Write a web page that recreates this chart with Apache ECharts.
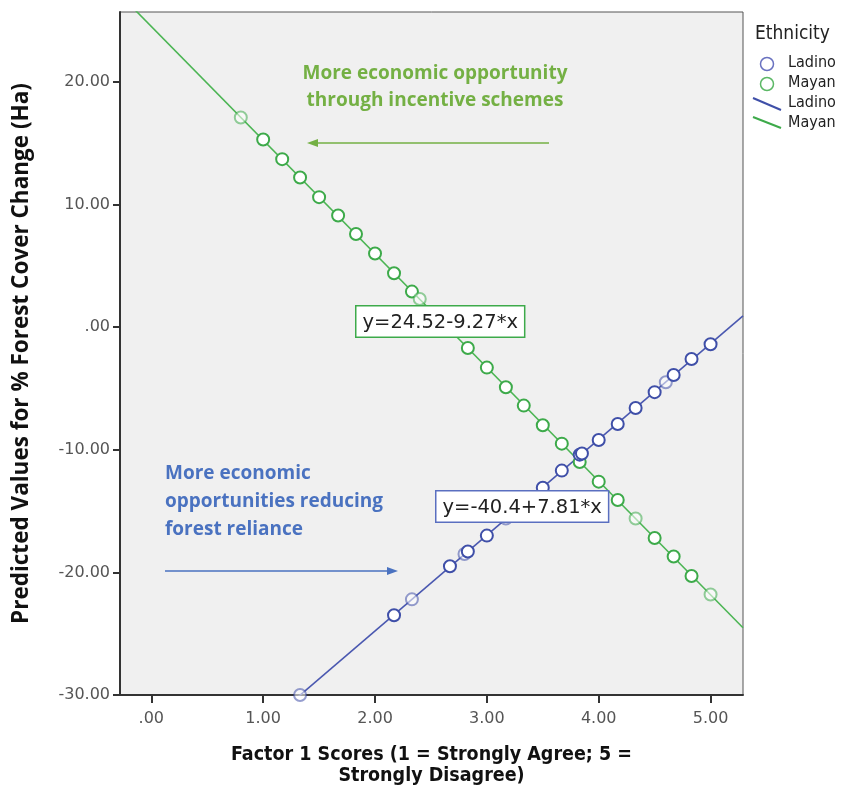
<!DOCTYPE html>
<html><head><meta charset="utf-8">
<script src="https://cdn.jsdelivr.net/npm/echarts@6/dist/echarts.min.js"></script>
<style>html,body{margin:0;padding:0;background:#fff}#c{width:846px;height:791px}</style>
</head><body><div id="c"></div>
<script>
// ---- data ----
const ladinoX = [1.33, 2.17, 2.33, 2.67, 2.80, 2.83, 3.00, 3.17, 3.50, 3.67, 3.83, 3.85, 4.00, 4.17, 4.33, 4.50, 4.60, 4.67, 4.83, 5.00];
const ladinoY = [-30.0, -23.5, -22.2, -19.5, -18.5, -18.3, -17.0, -15.6, -13.1, -11.7, -10.4, -10.3, -9.2, -7.9, -6.6, -5.3, -4.5, -3.9, -2.6, -1.4];
const ladinoN = [1, 2, 1, 2, 1, 2, 2, 1, 2, 2, 2, 2, 2, 2, 2, 2, 1, 2, 2, 2];
const mayanX = [0.80, 1.00, 1.17, 1.33, 1.50, 1.67, 1.83, 2.00, 2.17, 2.33, 2.40, 2.83, 3.00, 3.17, 3.33, 3.50, 3.67, 3.83, 4.00, 4.17, 4.33, 4.50, 4.67, 4.83, 5.00];
const mayanY = [17.1, 15.3, 13.7, 12.2, 10.6, 9.1, 7.6, 6.0, 4.4, 2.9, 2.3, -1.7, -3.3, -4.9, -6.4, -8.0, -9.5, -11.0, -12.6, -14.1, -15.6, -17.2, -18.7, -20.3, -21.8];
const mayanN = [1, 2, 2, 2, 2, 2, 2, 2, 2, 2, 1, 2, 2, 2, 2, 2, 2, 2, 2, 2, 1, 2, 2, 2, 1];
const ladinoFit = {intercept: -40.4, slope: 7.81, label: 'y=-40.4+7.81*x'};
const mayanFit = {intercept: 24.52, slope: -9.27, label: 'y=24.52-9.27*x'};
const xTicks = [0, 1, 2, 3, 4, 5];
const xRange = [-0.28, 5.29];
const yRange = [-30, 25.7];

const BLUE = '#3f4fa8', GREEN = '#3daa4a';
const fmt = v => Math.abs(v) < 1e-9 ? '.00' : v.toFixed(2);

function pts(xs, ys, ns, color) {
  return xs.map((x, i) => ({
    value: [x, ys[i]],
    itemStyle: {borderColor: color, borderWidth: ns[i] > 1 ? 2.2 : 1.4, opacity: ns[i] > 1 ? 1 : 0.55}
  }));
}
function fitLine(f) {
  return xRange.map(x => [x, f.intercept + f.slope * x]);
}

const chart = echarts.init(document.getElementById('c'));
chart.setOption({
  animation: false,
  backgroundColor: '#fff',
  grid: {left: 120, right: 103, top: 12, bottom: 96, show: true, backgroundColor: '#f0f0f0', borderColor: '#555', borderWidth: 1},
  xAxis: {
    type: 'value', min: xRange[0], max: xRange[1],
    axisLine: {show: true, onZero: false, lineStyle: {color: '#333', width: 2}},
    axisTick: {show: true, customValues: xTicks, length: 8, lineStyle: {color: '#333', width: 2}},
    axisLabel: {customValues: xTicks, formatter: fmt, color: '#555', fontFamily: 'DejaVu Sans', fontSize: 16, margin: 16},
    splitLine: {show: false},
    name: 'Factor 1 Scores (1 = Strongly Agree; 5 =\nStrongly Disagree)',
    nameLocation: 'middle', nameGap: 49,
    nameTextStyle: {fontFamily: 'DejaVu Sans Condensed, sans-serif', fontWeight: 'bold', fontSize: 19.5, color: '#111', lineHeight: 21}
  },
  yAxis: {
    type: 'value', min: yRange[0], max: yRange[1], interval: 10,
    axisLine: {show: true, onZero: false, lineStyle: {color: '#333', width: 2}},
    axisTick: {show: true, length: 7, lineStyle: {color: '#333', width: 2}},
    axisLabel: {formatter: fmt, color: '#555', fontFamily: 'DejaVu Sans', fontSize: 16, margin: 10, showMaxLabel: false},
    splitLine: {show: false},
    name: 'Predicted Values for % Forest Cover Change (Ha)',
    nameLocation: 'middle', nameGap: 87, nameRotate: 90,
    nameTextStyle: {fontFamily: 'Open Sans, sans-serif', fontWeight: 'bold', fontSize: 22.5, color: '#111'}
  },
  series: [
    {type: 'line', data: fitLine(mayanFit), symbol: 'none', lineStyle: {color: '#4cb554', width: 1.6}, clip: true, z: 2},
    {type: 'line', data: fitLine(ladinoFit), symbol: 'none', lineStyle: {color: '#4a58b0', width: 1.6}, clip: true, z: 2},
    {type: 'scatter', data: pts(mayanX, mayanY, mayanN, GREEN), symbol: 'emptyCircle', symbolSize: 12, itemStyle: {color: GREEN}, z: 3, clip: false},
    {type: 'scatter', data: pts(ladinoX, ladinoY, ladinoN, BLUE), symbol: 'emptyCircle', symbolSize: 12, itemStyle: {color: BLUE}, z: 3, clip: false}
  ],
  graphic: [
    // equation boxes
    {type: 'text', left: 355, top: 305, z: 10, style: {text: mayanFit.label, font: '19.5px DejaVu Sans', fill: '#222', backgroundColor: '#fff', borderColor: GREEN, borderWidth: 1.5, padding: [6, 6, 4, 6]}},
    {type: 'text', left: 435, top: 490, z: 10, style: {text: ladinoFit.label, font: '19.5px DejaVu Sans', fill: '#222', backgroundColor: '#fff', borderColor: '#5a6fc0', borderWidth: 1.5, padding: [6, 6, 4, 6]}},
    // annotations
    {type: 'text', x: 435, y: 60, z: 10, style: {text: 'More economic opportunity\nthrough incentive schemes', font: 'bold 19px Open Sans', fill: '#74b044', align: 'center', lineHeight: 27}},
    {type: 'line', z: 10, shape: {x1: 549, y1: 143, x2: 314, y2: 143}, style: {stroke: '#74b044', lineWidth: 1.5}},
    {type: 'polygon', z: 10, shape: {points: [[307, 143], [318, 139], [318, 147]]}, style: {fill: '#74b044'}},
    {type: 'text', x: 165, y: 460, z: 10, style: {text: 'More economic\nopportunities reducing\nforest reliance', font: 'bold 19px Open Sans', fill: '#4a72c0', align: 'left', lineHeight: 28}},
    {type: 'line', z: 10, shape: {x1: 165, y1: 571, x2: 390, y2: 571}, style: {stroke: '#4a72c0', lineWidth: 1.5}},
    {type: 'polygon', z: 10, shape: {points: [[398, 571], [387, 567], [387, 575]]}, style: {fill: '#4a72c0'}},
    // legend
    {type: 'text', left: 755, top: 25, style: {text: 'Ethnicity', font: '19px DejaVu Sans Condensed', fill: '#222'}},
    {type: 'circle', shape: {cx: 767, cy: 64, r: 6.5}, style: {fill: 'none', stroke: '#6a72c0', lineWidth: 1.5}},
    {type: 'text', left: 788, top: 55, style: {text: 'Ladino', font: '16px DejaVu Sans Condensed', fill: '#222'}},
    {type: 'circle', shape: {cx: 767, cy: 84, r: 6.5}, style: {fill: 'none', stroke: '#5cb866', lineWidth: 1.5}},
    {type: 'text', left: 788, top: 75, style: {text: 'Mayan', font: '16px DejaVu Sans Condensed', fill: '#222'}},
    {type: 'line', shape: {x1: 753, y1: 98, x2: 781, y2: 110}, style: {stroke: BLUE, lineWidth: 2}},
    {type: 'text', left: 788, top: 95, style: {text: 'Ladino', font: '16px DejaVu Sans Condensed', fill: '#222'}},
    {type: 'line', shape: {x1: 753, y1: 117, x2: 781, y2: 128}, style: {stroke: GREEN, lineWidth: 2}},
    {type: 'text', left: 788, top: 115, style: {text: 'Mayan', font: '16px DejaVu Sans Condensed', fill: '#222'}}
  ]
});
</script></body></html>
